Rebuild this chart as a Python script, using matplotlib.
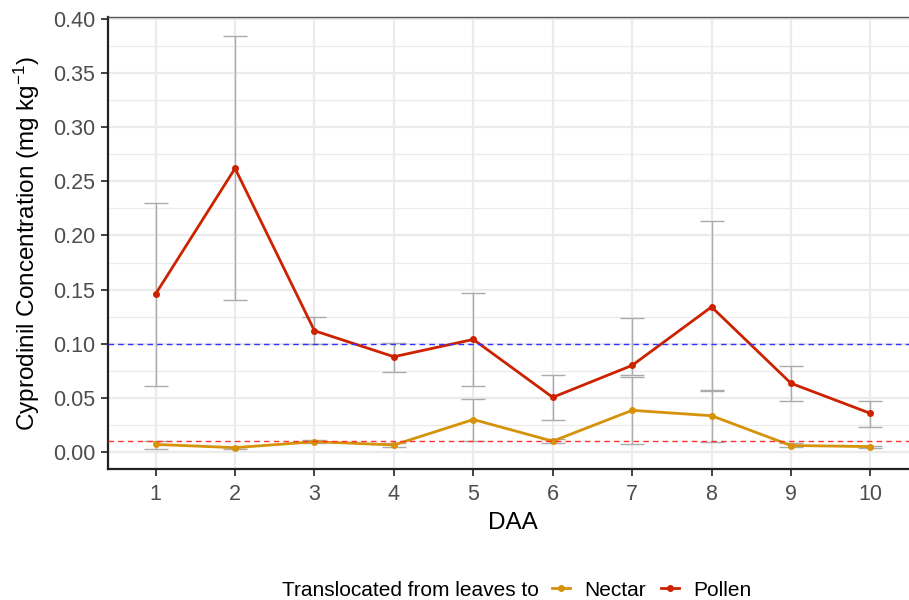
import numpy as np
import matplotlib
matplotlib.use("Agg")
import matplotlib.pyplot as plt
from matplotlib.lines import Line2D

plt.rcParams["font.family"] = ["Liberation Sans", "DejaVu Sans"]
plt.rcParams["mathtext.fontset"] = "custom"
plt.rcParams["mathtext.rm"] = "Liberation Sans"
plt.rcParams["mathtext.it"] = "Liberation Sans:italic"

# concentrations by days after application (mg/kg), mean with lower/upper bounds
daa = [1, 2, 3, 4, 5, 6, 7, 8, 9, 10]
pollen = [0.146, 0.262, 0.112, 0.088, 0.104, 0.0505, 0.080, 0.134, 0.0635, 0.0357]
pollen_lo = [0.061, 0.140, 0.100, 0.074, 0.061, 0.030, 0.071, 0.057, 0.0475, 0.023]
pollen_hi = [0.230, 0.384, 0.125, 0.101, 0.147, 0.071, 0.124, 0.213, 0.079, 0.0475]
nectar = [0.007, 0.004, 0.0095, 0.0065, 0.030, 0.010, 0.0385, 0.0335, 0.006, 0.005]
nectar_lo = [0.0025, 0.003, 0.008, 0.005, 0.010, 0.008, 0.0075, 0.009, 0.005, 0.004]
nectar_hi = [0.0105, 0.005, 0.011, 0.008, 0.049, 0.012, 0.069, 0.056, 0.008, 0.006]
pollen_ref = 0.10
nectar_ref = 0.01

C_NECTAR = "#D69208"
C_POLLEN = "#CC2200"

fig = plt.figure(figsize=(9.09, 6.0), dpi=100)
ax = fig.add_axes([108 / 909, 131 / 600, 810 / 909, 452 / 600])

ax.set_xlim(0.4, 10.6)
ax.set_ylim(-0.0157, 0.4018)
ax.set_yticks(np.arange(0, 0.401, 0.05))
ax.set_yticks(np.arange(0.025, 0.4, 0.05), minor=True)
ax.set_xticks(daa)
ax.grid(which="major", color="#EBEBEB", lw=1.6, zorder=0)
ax.grid(which="minor", axis="y", color="#EBEBEB", lw=0.9, zorder=0)
ax.tick_params(which="minor", length=0)
ax.tick_params(which="major", length=5, width=1.3, color="#333333",
               labelsize=15.5, labelcolor="#4D4D4D", pad=4)
ax.tick_params(axis="x", pad=6)
ax.set_yticklabels([f"{v:.2f}" for v in np.arange(0, 0.401, 0.05)])

ax.spines["right"].set_visible(False)
ax.spines["top"].set_color("#555555")
ax.spines["top"].set_linewidth(1.0)
for side in ["left", "bottom"]:
    ax.spines[side].set_color("#222222")
    ax.spines[side].set_linewidth(1.6)

for vals, lo, hi in [(nectar, nectar_lo, nectar_hi), (pollen, pollen_lo, pollen_hi)]:
    v = np.array(vals)
    err = [v - np.array(lo), np.array(hi) - v]
    ax.errorbar(daa, v, yerr=err, fmt="none", ecolor="#ABABAB", elinewidth=1.0,
                capsize=8.5, capthick=1.0, zorder=2)

ax.plot(daa, nectar, color=C_NECTAR, lw=2.0, marker="o", ms=4, zorder=3)
ax.plot(daa, pollen, color=C_POLLEN, lw=2.0, marker="o", ms=4, zorder=3)

ax.axhline(pollen_ref, color="#3333FF", ls=(0, (4, 3)), lw=1.0, zorder=4)
ax.axhline(nectar_ref, color="#FF3030", ls=(0, (4, 3)), lw=1.0, zorder=4)

ax.set_xlabel("DAA", fontsize=17.5, labelpad=5)
ax.set_ylabel(r"Cyprodinil Concentration (mg kg$^{-1}$)", fontsize=17.5, labelpad=8)

fig.text(282 / 909, 1 - 590 / 600, "Translocated from leaves to", fontsize=15,
         ha="left", va="center")
handles = [Line2D([], [], color=C_NECTAR, lw=2.0, marker="o", ms=4),
           Line2D([], [], color=C_POLLEN, lw=2.0, marker="o", ms=4)]
fig.legend(handles, ["Nectar", "Pollen"], ncol=2, frameon=False, fontsize=15,
           loc="center left", bbox_to_anchor=(552 / 909, 1 - 590 / 600),
           handlelength=0.87, handletextpad=0.7, columnspacing=0.7,
           borderpad=0, borderaxespad=0)

fig.savefig("out.png", dpi=100)
